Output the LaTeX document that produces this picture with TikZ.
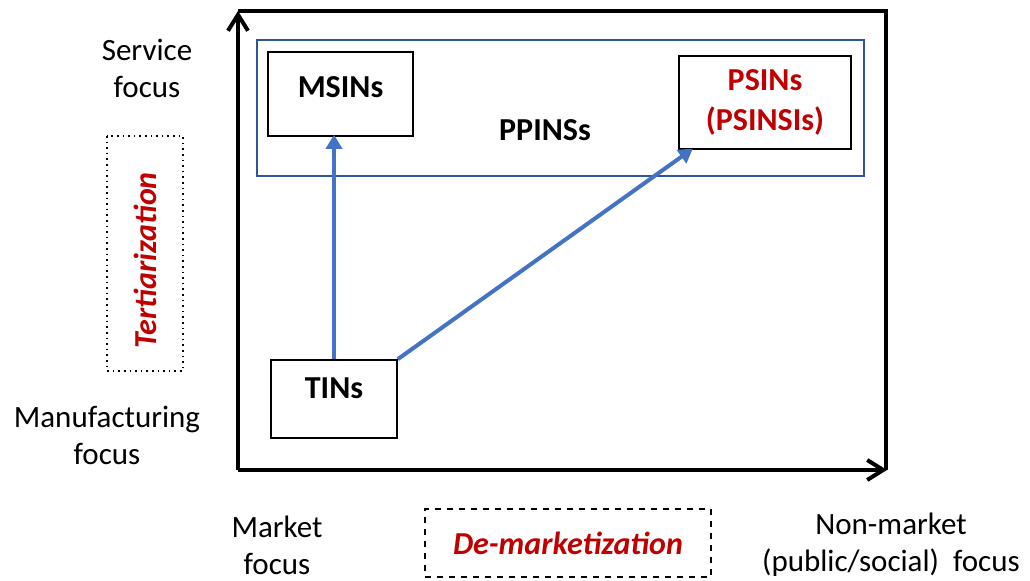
\documentclass[tikz,border=0pt]{standalone}
\usepackage{fontspec}
\setmainfont{Carlito}
\usetikzlibrary{positioning,calc,arrows.meta}
\definecolor{myblue}{RGB}{68, 114, 196}
\definecolor{mydarkblue}{RGB}{47, 85, 151}
\definecolor{myred}{RGB}{192, 0, 0}
\tikzstyle{netbox}=[draw,line width=0.8pt,fill=white,inner sep=0pt,font=\fontsize{16}{20}\selectfont\bfseries]
\tikzstyle{group}=[draw=mydarkblue,line width=1pt,inner sep=0pt]
\tikzstyle{axis}=[line width=2pt,-{Straight Barb[length=8pt,width=10pt]}]
\tikzstyle{arr}=[myblue,line width=2pt,-{Triangle[length=7pt,width=8pt]},shorten >=-1pt]
\tikzstyle{trend}=[draw,line width=0.8pt,inner sep=0pt,text=myred,font=\fontsize{16}{19}\selectfont\bfseries\itshape]

\begin{document}
\begin{tikzpicture}[x=0.5pt,y=-0.5pt,every node/.style={font=\fontsize{15.5}{18.5}\selectfont}]
      \useasboundingbox (0,0) rectangle (1030,581);
      % frame and axes
      \coordinate (O) at (238,470);
      \coordinate (Ytop) at (238,11);
      \coordinate (Xend) at (887,470);
      \draw[line width=2pt] (Ytop) -- (886,11) -- (886,470);
      \draw[axis] (O) -- (Ytop);
      \draw[axis] (O) -- (Xend);

      \node (PPINS) [group,minimum width=303.5pt,minimum height=68pt] at (560.5,108) {};
      \node (PPINSlbl) [font=\fontsize{16}{19}\selectfont\bfseries] at (545,130) {PPINSs};

      \node (MSIN) [netbox,minimum width=72.5pt,minimum height=42pt,text height=10.5pt,text depth=7pt] at (340.5,94) {MSINs};
      \node (PSIN) [netbox,minimum width=86pt,minimum height=46.5pt,align=center,text=myred] at (765,102.5) {PSINs\\(PSINSIs)};
      \node (TIN) [netbox,minimum width=63pt,minimum height=39pt,text height=10.5pt,text depth=11pt] at (334,399) {TINs};

      \draw[arr] (TIN.north) -- (TIN.north |- MSIN.south);
      \draw[arr] (TIN.north east) -- ([xshift=6.5pt]PSIN.south west);

      \node (SF) [align=center] at (147,68) {Service\\focus};
      \node (MF) [align=center] at (107,435) {Manufacturing\\focus};
      \node (Tert) [trend,dotted,rotate=90,minimum width=117.5pt,minimum height=38pt] at (145,253.5) {Tertiarization\hspace*{7pt}};

      \node (MkF) [align=center] at (277,545) {Market\\focus};
      \node (Demk) [trend,dashed,minimum width=143pt,minimum height=34pt] at (568,543) {De-marketization};
      \node (NMF) [align=center] at (891,545) {Non-market\\(public/social)\ \ focus};
    \end{tikzpicture}
\end{document}
